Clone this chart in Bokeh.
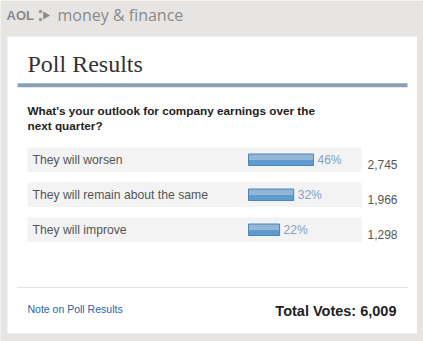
from bokeh.plotting import figure
from bokeh.models import Range1d, ColumnDataSource
from bokeh.core.properties import value
from bokeh.embed import file_html
from bokeh.resources import INLINE

# ---- data ----
options = ["They will worsen", "They will remain about the same", "They will improve"]
percents = [46, 32, 22]
votes = [2745, 1966, 1298]
total_votes = 6009
title = "Poll Results"
question = ["What's your outlook for company earnings over the", "next quarter?"]

# ---- layout constants ----
W, H = 423, 341
row_top0, row_step, row_h = 147, 35, 24.5
bar_left, px_per_pct, bar_h = 248, 1.413, 11.5

p = figure(width=W, height=H, x_range=Range1d(0, W), y_range=Range1d(H, 0),
           output_backend="svg", toolbar_location=None, min_border=0)
p.axis.visible = False
p.grid.visible = False
p.outline_line_color = None
p.background_fill_color = "#e6e5e3"
p.border_fill_color = "#e6e5e3"

SANS = value("Liberation Sans")

# header
p.text(x=[6], y=[15], text=["AOL"], text_font=SANS, text_font_style="bold",
       text_font_size="13px", text_color="#8a8a8a", text_baseline="middle")
p.scatter(x=[45], y=[15], marker="triangle", size=8, angle=-1.5708,
          fill_color="#8a8a8a", line_color=None)
p.scatter(x=[40], y=[11], marker="circle", size=3.5, fill_color="#9a9a9a", line_color=None)
p.scatter(x=[40], y=[19], marker="circle", size=3.5, fill_color="#9a9a9a", line_color=None)
p.text(x=[57], y=[14], text=["money & finance"], text_font=value("Open Sans"),
       text_font_size="16px", text_color="#8a8a8a", text_baseline="middle")

# white panel
p.quad(left=[7], right=[416.5], top=[36], bottom=[333], fill_color="white", line_color=None)

# title and rule
p.text(x=[27], y=[63], text=[title], text_font=value("Liberation Serif"),
       text_font_size="24px", text_color="#333333", text_baseline="middle")
p.quad(left=[17], right=[407], top=[82.7], bottom=[86.7], fill_color="#87a0b4", line_color=None)

# question
p.text(x=[27, 27], y=[110, 125], text=question, text_font=SANS, text_font_style="bold",
       text_font_size="11.75px", text_color="#222222", text_baseline="middle")

# rows
n = len(options)
tops = [row_top0 + i * row_step for i in range(n)]
centers = [t + row_h / 2 for t in tops]
rights = [bar_left + v * px_per_pct for v in percents]
src = ColumnDataSource(dict(
    top=tops, bottom=[t + row_h for t in tops], c=centers,
    bt=[c - bar_h / 2 for c in centers], bm=centers, bb=[c + bar_h / 2 for c in centers],
    right=rights, pct_x=[r + 4 for r in rights],
    label=options, pct=[f"{v}%" for v in percents],
    cnt=[f"{v:,}" for v in votes], cnt_y=[c + 5 for c in centers],
))
p.quad(left=27, right=361, top="top", bottom="bottom", source=src,
       fill_color="#f3f3f3", line_color=None)
p.text(x=32, y="c", text="label", source=src, text_font=SANS, text_font_size="12.2px",
       text_color="#555555", text_baseline="middle")
p.quad(left=bar_left, right="right", top="bt", bottom="bm", source=src,
       fill_color="#93b6d5", line_color=None)
p.quad(left=bar_left, right="right", top="bm", bottom="bb", source=src,
       fill_color="#5e9bd0", line_color=None)
p.quad(left=bar_left, right="right", top="bt", bottom="bb", source=src,
       fill_color=None, line_color="#4a86ba", line_width=1)
p.text(x="pct_x", y="c", text="pct", source=src, text_font=SANS, text_font_size="12px",
       text_color="#7fa2c3", text_baseline="middle")
p.text(x=367, y="cnt_y", text="cnt", source=src, text_font=SANS, text_font_size="12px",
       text_color="#555555", text_baseline="middle")

# footer
p.quad(left=[17], right=[407], top=[286.5], bottom=[287.5], fill_color="#e2e2e2", line_color=None)
p.text(x=[27], y=[308.5], text=["Note on Poll Results"], text_font=SANS,
       text_font_size="10.5px", text_color="#2d62ad", text_baseline="middle")
p.text(x=[396], y=[310], text=[f"Total Votes: {total_votes:,}"], text_font=SANS,
       text_font_style="bold", text_font_size="14.5px", text_color="#222222",
       text_baseline="middle", text_align="right")

open("out.html", "w").write(file_html(p, INLINE))
